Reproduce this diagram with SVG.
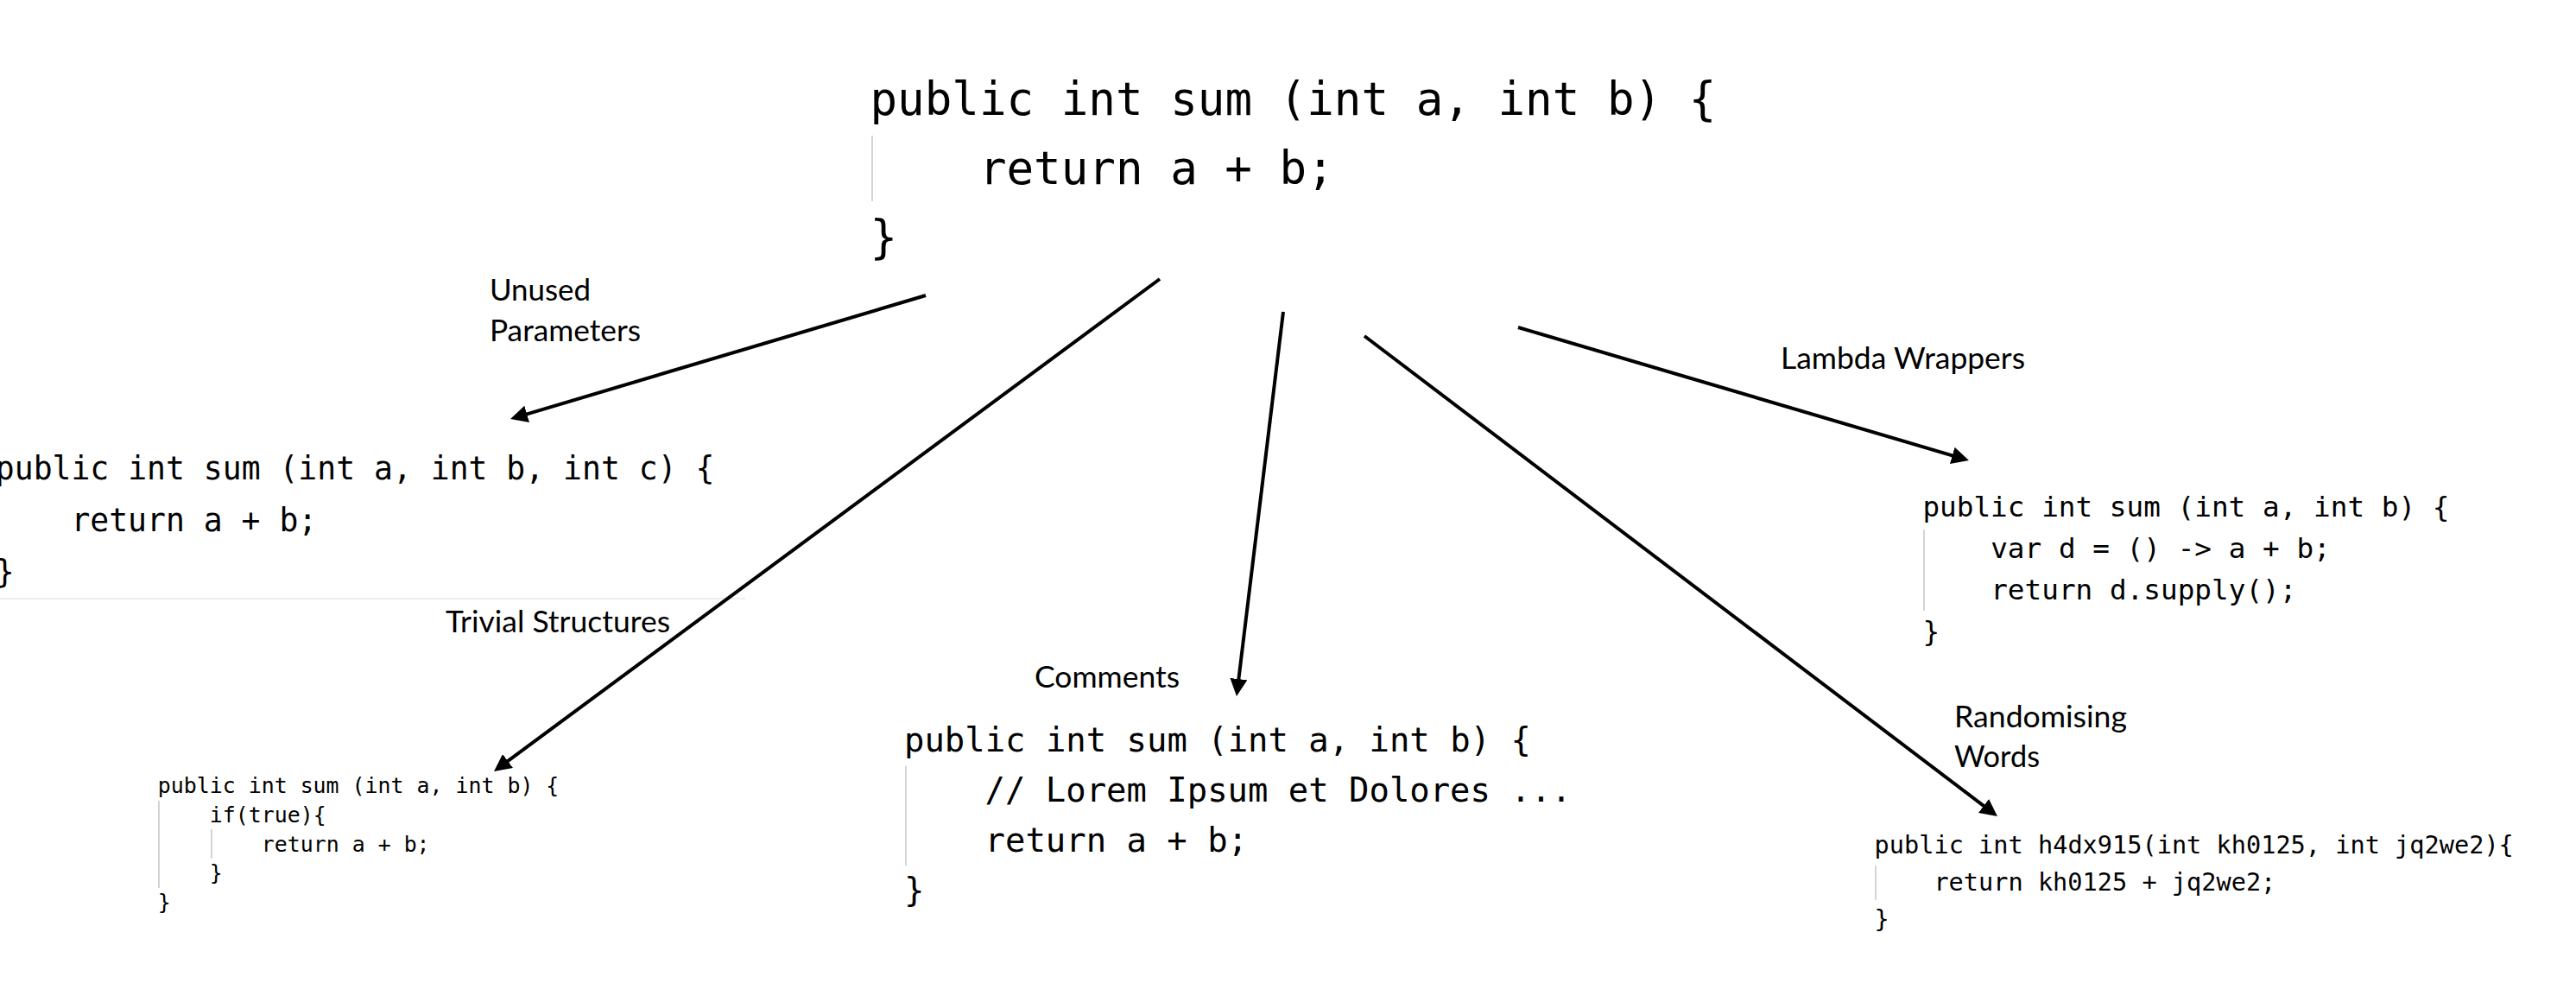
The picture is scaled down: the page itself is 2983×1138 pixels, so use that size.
<svg xmlns="http://www.w3.org/2000/svg" width="2983" height="1138" viewBox="0 0 2983 1138">
<style>
.code{font-family:"DejaVu Sans Mono","Liberation Mono",monospace;fill:#000;}
.lbl{font-family:Lato,"Open Sans","Liberation Sans",sans-serif;font-size:34px;fill:#000;}
.guide{stroke:#d4d4d4;stroke-width:2;fill:none;}
.conn{stroke:#000;stroke-width:4;fill:none;marker-end:url(#ah);}
</style>
<defs>
<marker id="ah" markerUnits="userSpaceOnUse" markerWidth="20" markerHeight="20" refX="14" refY="10" orient="auto">
<path d="M0,0 L20,10 L0,20 z" fill="#000"/>
</marker>
</defs>
<rect x="0" y="0" width="2983" height="1138" fill="#fff"/>

<g id="node-original">
<line class="guide" x1="1010" y1="157" x2="1010" y2="233"/>
<text class="code" font-size="52.5" x="1007.5" y="133">public int sum (int a, int b) {</text>
<text class="code" font-size="52.5" x="1133.9" y="213">return a + b;</text>
<text class="code" font-size="52.5" x="1007.5" y="293">}</text>
</g>

<g id="node-unused-params">
<text class="code" font-size="36.4" x="-5.2" y="555">public int sum (int a, int b, int c) {</text>
<text class="code" font-size="36.4" x="82.4" y="615">return a + b;</text>
<text class="code" font-size="36.4" x="-5.2" y="675">}</text>
<line x1="0" y1="693" x2="863" y2="693" stroke="#e8e8e8" stroke-width="1.5"/>
</g>

<g id="node-trivial">
<line class="guide" x1="184" y1="927" x2="184" y2="1028"/>
<line class="guide" x1="245" y1="960" x2="245" y2="994"/>
<text class="code" font-size="24.9" x="182.8" y="918">public int sum (int a, int b) {</text>
<text class="code" font-size="24.9" x="242.8" y="951.8">if(true){</text>
<text class="code" font-size="24.9" x="302.8" y="985.6">return a + b;</text>
<text class="code" font-size="24.9" x="242.8" y="1019.4">}</text>
<text class="code" font-size="24.9" x="182.8" y="1053.2">}</text>
</g>

<g id="node-comments">
<line class="guide" x1="1049" y1="887" x2="1049" y2="1002"/>
<text class="code" font-size="38.9" x="1047" y="870">public int sum (int a, int b) {</text>
<text class="code" font-size="38.9" x="1140.6" y="928">// Lorem Ipsum et Dolores ...</text>
<text class="code" font-size="38.9" x="1140.6" y="986">return a + b;</text>
<text class="code" font-size="38.9" x="1047" y="1044">}</text>
</g>

<g id="node-lambda">
<line class="guide" x1="2228" y1="613" x2="2228" y2="707"/>
<text class="code" font-size="32.7" x="2226.4" y="598">public int sum (int a, int b) {</text>
<text class="code" font-size="32.7" x="2305.2" y="646">var d = () -&gt; a + b;</text>
<text class="code" font-size="32.7" x="2305.2" y="694">return d.supply();</text>
<text class="code" font-size="32.7" x="2226.4" y="742">}</text>
</g>

<g id="node-random">
<line class="guide" x1="2172" y1="1002" x2="2172" y2="1042"/>
<text class="code" font-size="28.6" x="2170.6" y="988">public int h4dx915(int kh0125, int jq2we2){</text>
<text class="code" font-size="28.6" x="2239.4" y="1031">return kh0125 + jq2we2;</text>
<text class="code" font-size="28.6" x="2170.6" y="1074">}</text>
</g>

<g id="connectors">
<line class="conn" x1="1072" y1="342" x2="596.8" y2="483.3"/>
<line class="conn" x1="1343" y1="323" x2="576.8" y2="889.4"/>
<line class="conn" x1="1486" y1="361" x2="1432.7" y2="800"/>
<line class="conn" x1="1580" y1="389" x2="2308.2" y2="941.4"/>
<line class="conn" x1="1758" y1="379" x2="2274.2" y2="531.3"/>
</g>

<g id="labels">
<text class="lbl" x="567" y="348" textLength="117" lengthAdjust="spacingAndGlyphs">Unused</text>
<text class="lbl" x="567" y="395" textLength="175" lengthAdjust="spacingAndGlyphs">Parameters</text>
<text class="lbl" x="516" y="732" textLength="260" lengthAdjust="spacingAndGlyphs">Trivial Structures</text>
<text class="lbl" x="1198" y="796" textLength="168" lengthAdjust="spacingAndGlyphs">Comments</text>
<text class="lbl" x="2062" y="427" textLength="283" lengthAdjust="spacingAndGlyphs">Lambda Wrappers</text>
<text class="lbl" x="2263" y="842" textLength="200" lengthAdjust="spacingAndGlyphs">Randomising</text>
<text class="lbl" x="2263" y="888" textLength="99" lengthAdjust="spacingAndGlyphs">Words</text>
</g>
</svg>
